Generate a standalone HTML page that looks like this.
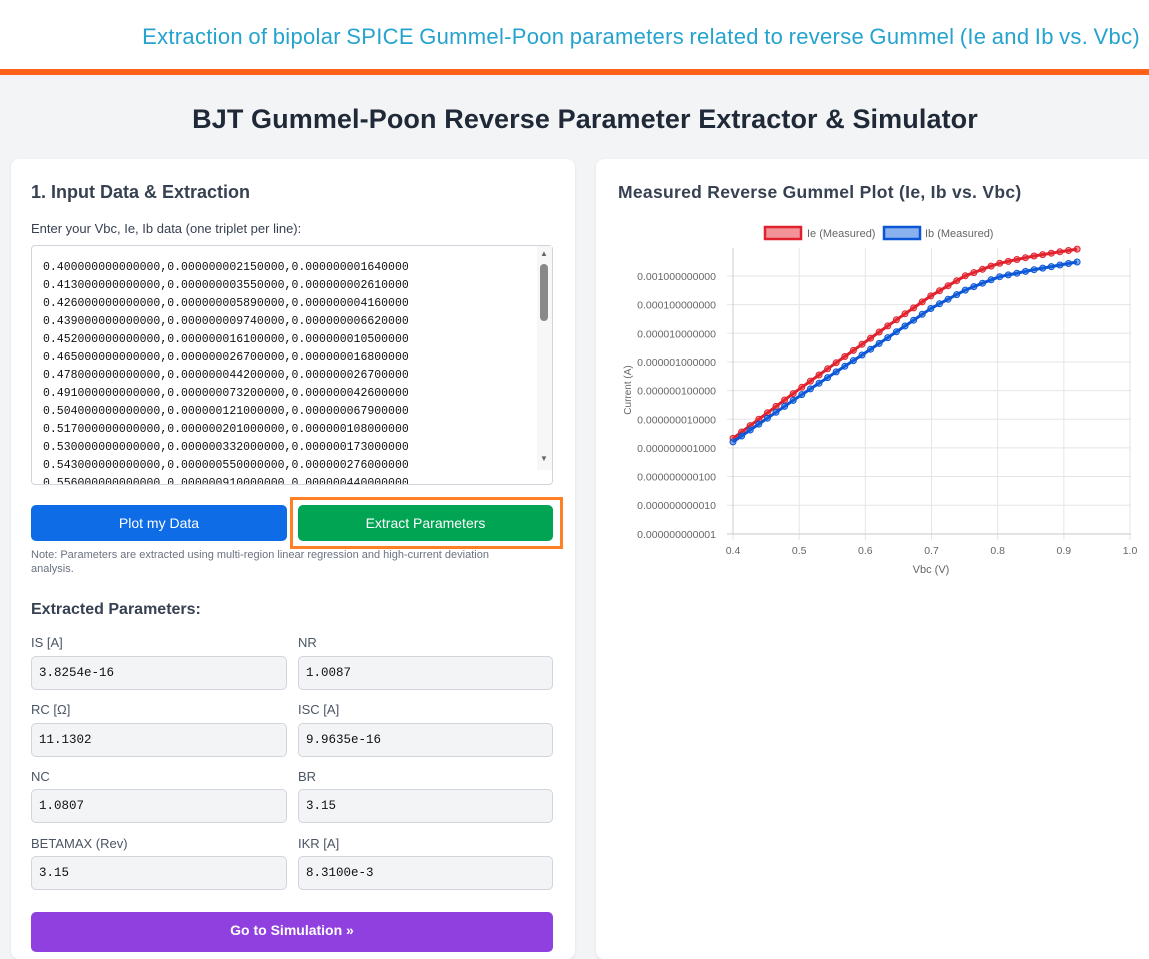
<!DOCTYPE html>
<html><head><meta charset="utf-8"><style>
*{box-sizing:border-box;margin:0;padding:0}
body{width:1149px;height:946px;overflow:hidden;background:#f3f4f6;font-family:"Liberation Sans",sans-serif;position:relative;color:#1f2937}
.abs{position:absolute}
.hdr{left:0;top:0;width:1149px;height:69px;background:#fff}
.bar{left:0;top:69px;width:1149px;height:6px;background:#ff6319}
.ttl{right:9px;top:24px;font-size:22px;color:#25a3cf;white-space:nowrap;letter-spacing:0.05px;word-spacing:-1px}
h1{position:absolute;left:0;width:1170px;text-align:center;top:104px;font-size:27px;font-weight:bold;color:#1f2937;letter-spacing:0.1px}
.card{background:#fff;border-radius:8px;box-shadow:0 1px 3px rgba(0,0,0,.08)}
.lbl{font-size:13px;color:#374151}
.ta{left:31px;top:245px;width:522px;height:240px;border:1px solid #d1d5db;border-radius:4px;overflow:hidden;font-family:"Liberation Mono",monospace;font-size:11.5px;line-height:18px;padding:13px 0 0 11px;color:#111;white-space:pre}
.btn{height:36px;border-radius:5px;color:#fff;font-size:14px;text-align:center;line-height:36px}
.inp{width:256px;height:34px;background:#f3f4f6;border:1px solid #d1d5db;border-radius:5px;font-family:"Liberation Mono",monospace;font-size:12.5px;line-height:32px;padding-left:7px;color:#111}
.pl{font-size:13px;color:#4b5563}
</style></head><body>
<div class="abs hdr"></div><div class="abs bar"></div>
<div class="abs ttl" style="letter-spacing:0.3px">Extraction of bipolar SPICE Gummel-Poon parameters related to reverse Gummel (Ie and Ib vs. Vbc)</div>
<h1>BJT Gummel-Poon Reverse Parameter Extractor &amp; Simulator</h1>
<div class="abs card" style="left:11px;top:159px;width:564px;height:800px"></div>
<div class="abs card" style="left:596px;top:159px;width:570px;height:800px"></div>
<div class="abs" style="left:31px;top:182px;font-size:18px;font-weight:bold;color:#374151">1. Input Data &amp; Extraction</div>
<div class="abs lbl" style="left:31px;top:221px">Enter your Vbc, Ie, Ib data (one triplet per line):</div>
<div class="abs ta">0.400000000000000,0.000000002150000,0.000000001640000
0.413000000000000,0.000000003550000,0.000000002610000
0.426000000000000,0.000000005890000,0.000000004160000
0.439000000000000,0.000000009740000,0.000000006620000
0.452000000000000,0.000000016100000,0.000000010500000
0.465000000000000,0.000000026700000,0.000000016800000
0.478000000000000,0.000000044200000,0.000000026700000
0.491000000000000,0.000000073200000,0.000000042600000
0.504000000000000,0.000000121000000,0.000000067900000
0.517000000000000,0.000000201000000,0.000000108000000
0.530000000000000,0.000000332000000,0.000000173000000
0.543000000000000,0.000000550000000,0.000000276000000
0.556000000000000,0.000000910000000,0.000000440000000</div>
<div class="abs" style="left:537px;top:246px;width:15px;height:224px;background:#f7f7f7"></div>
<div class="abs" style="left:540px;top:264px;width:8px;height:57px;background:#888;border-radius:4px"></div>
<div class="abs" style="left:540px;top:249px;font-size:8px;color:#666">▲</div>
<div class="abs" style="left:540px;top:454px;font-size:8px;color:#666">▼</div>
<div class="abs btn" style="left:31px;top:505px;width:256px;background:#0d6ce6">Plot my Data</div>
<div class="abs btn" style="left:298px;top:505px;width:255px;background:#00a452">Extract Parameters</div>
<div class="abs" style="left:290px;top:497px;width:273px;height:52px;border:3px solid #ff7f24"></div>
<div class="abs" style="left:31px;top:548px;width:500px;font-size:11px;color:#6b7280;line-height:14px">Note: Parameters are extracted using multi-region linear regression and high-current deviation analysis.</div>
<div class="abs" style="left:31px;top:601px;font-size:16px;font-weight:bold;color:#374151">Extracted Parameters:</div>
<div class="abs pl" style="left:31px;top:635px">IS [A]</div><div class="abs pl" style="left:298px;top:635px">NR</div>
<div class="abs inp" style="left:31px;top:656px">3.8254e-16</div><div class="abs inp" style="left:298px;top:656px;width:255px">1.0087</div>
<div class="abs pl" style="left:31px;top:702px">RC [Ω]</div><div class="abs pl" style="left:298px;top:702px">ISC [A]</div>
<div class="abs inp" style="left:31px;top:723px">11.1302</div><div class="abs inp" style="left:298px;top:723px;width:255px">9.9635e-16</div>
<div class="abs pl" style="left:31px;top:769px">NC</div><div class="abs pl" style="left:298px;top:769px">BR</div>
<div class="abs inp" style="left:31px;top:789px">1.0807</div><div class="abs inp" style="left:298px;top:789px;width:255px">3.15</div>
<div class="abs pl" style="left:31px;top:836px">BETAMAX (Rev)</div><div class="abs pl" style="left:298px;top:836px">IKR [A]</div>
<div class="abs inp" style="left:31px;top:856px">3.15</div><div class="abs inp" style="left:298px;top:856px;width:255px">8.3100e-3</div>
<div class="abs btn" style="left:31px;top:912px;width:522px;height:40px;background:#9140e0;font-weight:bold;line-height:36px">Go to Simulation »</div>
<div class="abs" style="left:618px;top:182px;font-size:17.5px;font-weight:bold;color:#374151;letter-spacing:0.3px">Measured Reverse Gummel Plot (Ie, Ib vs. Vbc)</div>
<svg class="abs" style="left:0;top:0" width="1149" height="946" id="ch">
<g font-family="Liberation Sans" font-size="11" fill="#666">
<rect x="765" y="227" width="36" height="12" fill="rgba(230,40,50,.5)" stroke="#e0222f" stroke-width="2.5"/>
<text x="807" y="237">Ie (Measured)</text>
<rect x="884" y="227" width="36" height="12" fill="rgba(20,100,220,.5)" stroke="#0b55d6" stroke-width="2.5"/>
<text x="925" y="237">Ib (Measured)</text>
<text x="931" y="573" text-anchor="middle">Vbc (V)</text>
<text transform="translate(631,390) rotate(-90)" text-anchor="middle" font-size="10">Current (A)</text>
</g>
<g id="grid"></g><g id="ser"></g>
</svg>
<script>
var g=document.getElementById('grid'),s=document.getElementById('ser'),h='';
function X(v){return 733+(v-0.4)*661.7}function Y(l){return 276-(l+3)*28.65}
var labs=['0.001000000000','0.000100000000','0.000010000000','0.000001000000','0.000000100000','0.000000010000','0.000000001000','0.000000000100','0.000000000010','0.000000000001'];
for(var i=0;i<10;i++){var y=Y(-3-i);h+='<line x1="727" x2="1131" y1="'+y+'" y2="'+y+'" stroke="#e5e5e5"/>';h+='<text x="716" y="'+(y+4)+'" text-anchor="end" font-family="Liberation Sans" font-size="10.5" fill="#666">'+labs[i]+'</text>';}
for(var k=0;k<=6;k++){var x=X(0.4+k*0.1);h+='<line x1="'+x+'" x2="'+x+'" y1="248" y2="540" stroke="#e5e5e5"/>';h+='<text x="'+x+'" y="554" text-anchor="middle" font-family="Liberation Sans" font-size="10.5" fill="#666">'+(0.4+k*0.1).toFixed(1)+'</text>';}
h+='<line x1="733" x2="733" y1="248" y2="534" stroke="#ccc"/><line x1="727" x2="1131" y1="534" y2="534" stroke="#ccc"/>';
g.innerHTML=h;
var A=[[0.4,-8.67],[0.5,-6.95],[0.6,-5.3],[0.65,-4.48],[0.7,-3.68],[0.75,-3.0],[0.8,-2.57],[0.85,-2.32],[0.92,-2.06]];
var B=[[0.4,-8.79],[0.5,-7.2],[0.6,-5.68],[0.65,-4.9],[0.7,-4.12],[0.75,-3.5],[0.8,-3.04],[0.85,-2.8],[0.92,-2.51]];
function it(T,v){for(var i=0;i<T.length-1;i++)if(v<=T[i+1][0]+1e-9){var t=(v-T[i][0])/(T[i+1][0]-T[i][0]);return T[i][1]+t*(T[i+1][1]-T[i][1]);}return T[T.length-1][1];}
var o='';
[[A,'#e0222f','rgba(230,40,50,.5)'],[B,'#0b55d6','rgba(20,100,220,.5)']].forEach(function(c){var p='',d='';for(var n=0;n<=40;n++){var v=0.4+n*0.013,x=X(v),y=Y(it(c[0],v));p+=x.toFixed(1)+','+y.toFixed(1)+' ';d+='<circle cx="'+x.toFixed(1)+'" cy="'+y.toFixed(1)+'" r="3" fill="'+c[2]+'" stroke="'+c[1]+'"/>';}o+='<polyline points="'+p+'" fill="none" stroke="'+c[1]+'" stroke-width="3"/>'+d;});
s.innerHTML=o;
</script>
</body></html>
